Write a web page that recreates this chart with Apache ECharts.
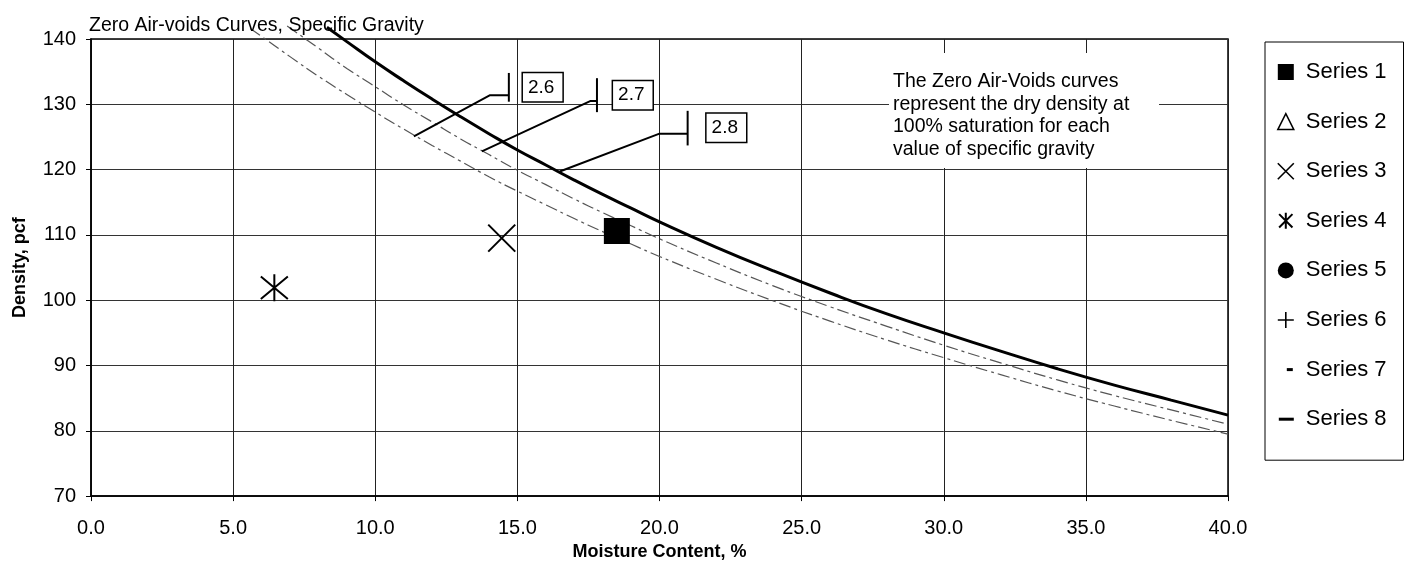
<!DOCTYPE html>
<html>
<head>
<meta charset="utf-8">
<script src="https://cdn.jsdelivr.net/npm/echarts@6/dist/echarts.min.js"></script>
<style>html,body{margin:0;padding:0;background:#fff}#c{width:1405px;height:566px}</style>
</head>
<body>
<div id="c"></div>
<script>
// Zero air-voids curves: [moisture %, density pcf]
const zav26 = [[5.6,141.6],[6,140.4],[7,137.3],[8,134.3],[9,131.5],[10,128.8],[11,126.2],[12,123.7],[13,121.3],[14,118.9],[15,116.7],[16,114.6],[17,112.5],[18,110.5],[19,108.6],[20,106.7],[22,103.2],[24,99.9],[26,96.8],[28,93.9],[30,91.2],[32,88.6],[34,86.1],[36,83.8],[38,81.6],[40,79.5]];
const zav27 = [[6.9,142.0],[7,141.7],[8,138.6],[9,135.5],[10,132.7],[11,129.9],[12,127.3],[13,124.7],[14,122.3],[15,119.9],[16,117.7],[17,115.5],[18,113.4],[19,111.4],[20,109.4],[22,105.7],[24,102.2],[26,99.0],[28,96.0],[30,93.1],[32,90.4],[34,87.8],[36,85.4],[38,83.2],[40,81.0]];
const zav28 = [[8.3,141.8],[9,139.6],[10,136.5],[11,133.6],[12,130.8],[13,128.1],[14,125.5],[15,123.0],[16,120.7],[17,118.4],[18,116.2],[19,114.1],[20,112.0],[22,108.1],[24,104.5],[26,101.1],[28,97.9],[30,95.0],[32,92.2],[34,89.5],[36,87.0],[38,84.7],[40,82.4]];

// Test points
const series1 = [[18.5,110.6]];
const series2 = [];
const series3 = [[14.45,109.5]];
const series4 = [[6.45,101.9]];
const series5 = [];
const series6 = [];
const series7 = [];
const series8 = [];
const seriesNames = ['Series 1','Series 2','Series 3','Series 4','Series 5','Series 6','Series 7','Series 8'];

// Specific gravity labels and leader lines
const gsLabels = [[15.89,132.6,'2.6'],[19.06,131.4,'2.7'],[22.35,126.4,'2.8']];
const lead26 = [[14.7,131.4],[14.04,131.4],[11.36,125.1]];
const tick26 = [[14.7,134.8],[14.7,130.4]];
const lead27 = [[17.8,130.5],[17.56,130.5],[13.75,122.8]];
const tick27 = [[17.8,134.0],[17.8,128.8]];
const lead28 = [[20.99,125.5],[20.0,125.5],[16.49,119.7]];
const tick28 = [[20.99,129.0],[20.99,123.7]];

const xTicks = {min:0, max:40, interval:5};
const yTicks = {min:70, max:140, interval:10};

const FONT = 'Liberation Sans, Arial, sans-serif';
const stroke = {color:'rgba(0,0,0,0)', borderColor:'#000', borderWidth:2, opacity:1};
const fill = {color:'#000', borderWidth:0, opacity:1};
const ICON_X = 'path://M0,0L10,10M10,0L0,10';
const ICON_AST = 'path://M0,0L10,10M10,0L0,10M5,-1L5,11';
const ICON_PLUS = 'path://M5,0L5,10M0,5L10,5';
const ICON_S7 = 'path://M0,0L0,0M16,16L16,16M9,6.5H15V9.5H9Z';
const ICON_S8 = 'path://M0,0L0,0M16,16L16,16M1,6.5H16V9.5H1Z';

const pointSeries = [
  {name:seriesNames[0], data:series1, symbol:'rect', symbolSize:26, itemStyle:fill, icon:'rect', legendStyle:fill},
  {name:seriesNames[1], data:series2, symbol:'triangle', symbolSize:16, itemStyle:{color:'rgba(0,0,0,0)',borderColor:'#000',borderWidth:1.5,opacity:1}, icon:'triangle', legendStyle:{color:'rgba(0,0,0,0)',borderColor:'#000',borderWidth:1.5}},
  {name:seriesNames[2], data:series3, symbol:ICON_X, symbolSize:27, itemStyle:stroke, icon:ICON_X, legendStyle:{color:'rgba(0,0,0,0)',borderColor:'#000',borderWidth:1.6}},
  {name:seriesNames[3], data:series4, symbol:ICON_AST, symbolSize:27, itemStyle:stroke, icon:ICON_AST, legendStyle:{color:'rgba(0,0,0,0)',borderColor:'#000',borderWidth:2}},
  {name:seriesNames[4], data:series5, symbol:'circle', symbolSize:16, itemStyle:fill, icon:'circle', legendStyle:fill},
  {name:seriesNames[5], data:series6, symbol:ICON_PLUS, symbolSize:16, itemStyle:stroke, icon:ICON_PLUS, legendStyle:{color:'rgba(0,0,0,0)',borderColor:'#000',borderWidth:1.6}},
  {name:seriesNames[6], data:series7, symbol:ICON_S7, symbolSize:16, itemStyle:fill, icon:ICON_S7, legendStyle:fill},
  {name:seriesNames[7], data:series8, symbol:ICON_S8, symbolSize:16, itemStyle:fill, icon:ICON_S8, legendStyle:fill}
];

function leader(data){
  return {type:'line', data:data, symbol:'none', silent:true, z:6,
    lineStyle:{color:'#000', width:2}, clip:false};
}

const chart = echarts.init(document.getElementById('c'), null, {renderer:'canvas'});
const option = {
  animation:false,
  backgroundColor:'#fff',
  textStyle:{fontFamily:FONT, color:'#000'},
  title:{text:'Zero Air-voids Curves, Specific Gravity', left:84, top:11,
    textStyle:{fontFamily:FONT, fontSize:19.5, fontWeight:'normal', color:'#000'}},
  grid:{left:91, right:177, top:39, bottom:66, show:true, borderColor:'#000', borderWidth:1.5, backgroundColor:'transparent'},
  xAxis:{type:'value', min:xTicks.min, max:xTicks.max, interval:xTicks.interval,
    name:'Moisture Content, %', nameLocation:'middle', nameGap:41,
    nameTextStyle:{fontFamily:FONT, fontSize:18, fontWeight:'bold', color:'#000'},
    axisLine:{lineStyle:{color:'#000', width:1.5}},
    axisTick:{show:true, length:5, lineStyle:{color:'#000'}},
    axisLabel:{fontFamily:FONT, fontSize:20, color:'#000', margin:22, formatter:v=>v.toFixed(1)},
    splitLine:{show:true, lineStyle:{color:'#222', width:1}}},
  yAxis:{type:'value', min:yTicks.min, max:yTicks.max, interval:yTicks.interval,
    name:'Density, pcf', nameLocation:'middle', nameGap:62, nameRotate:90,
    nameTextStyle:{fontFamily:FONT, fontSize:18, fontWeight:'bold', color:'#000'},
    axisLine:{show:true, lineStyle:{color:'#000', width:1.5}},
    axisTick:{show:true, length:5, lineStyle:{color:'#000'}},
    axisLabel:{fontFamily:FONT, fontSize:20, color:'#000', margin:15},
    splitLine:{show:true, lineStyle:{color:'#333', width:1}}},
  legend:{
    orient:'vertical', left:1265, top:42,
    padding:[19,17,30,12], itemGap:27.6, itemWidth:16, itemHeight:16,
    borderColor:'#000', borderWidth:1, backgroundColor:'#fff',
    textStyle:{fontFamily:FONT, fontSize:22, color:'#000', padding:[0,0,0,7]},
    selectedMode:false,
    data:pointSeries.map(s=>({name:s.name, icon:s.icon, itemStyle:s.legendStyle}))
  },
  graphic:[
    {type:'rect', left:889, top:53, z:50, shape:{width:270, height:115}, style:{fill:'#fff'}},
    {type:'text', left:893, top:70, z:51, style:{
      text:'The Zero Air-Voids curves\nrepresent the dry density at\n100% saturation for each\nvalue of specific gravity',
      font:'19.5px Liberation Sans, Arial, sans-serif', fill:'#000', lineHeight:22.8}}
  ],
  series:[
    {type:'line', name:'Gs 2.6', data:zav26, smooth:true, symbol:'none', clip:false, z:3,
      lineStyle:{color:'#555', width:1.2, type:[12,4,3,4]}},
    {type:'line', name:'Gs 2.7', data:zav27, smooth:true, symbol:'none', clip:false, z:3,
      lineStyle:{color:'#555', width:1.2, type:[12,4,3,4]}},
    {type:'line', name:'Gs 2.8', data:zav28, smooth:true, symbol:'none', clip:false, z:4,
      lineStyle:{color:'#000', width:3}},
    leader(lead26), leader(tick26), leader(lead27), leader(tick27), leader(lead28), leader(tick28),
    {type:'scatter', name:'gsLabels', data:gsLabels, symbolSize:1, itemStyle:{color:'rgba(0,0,0,0)', opacity:1}, z:8, silent:true,
      label:{show:true, position:'inside', formatter:p=>p.value[2], fontFamily:FONT, fontSize:19, color:'#000',
        backgroundColor:'#fff', borderColor:'#000', borderWidth:1.5, padding:[5,8,4,5]}},
    ...pointSeries.map(s=>({type:'scatter', name:s.name, data:s.data, symbol:s.symbol, symbolSize:s.symbolSize,
      itemStyle:s.itemStyle, z:10}))
  ]
};
chart.setOption(option);
</script>
</body>
</html>
